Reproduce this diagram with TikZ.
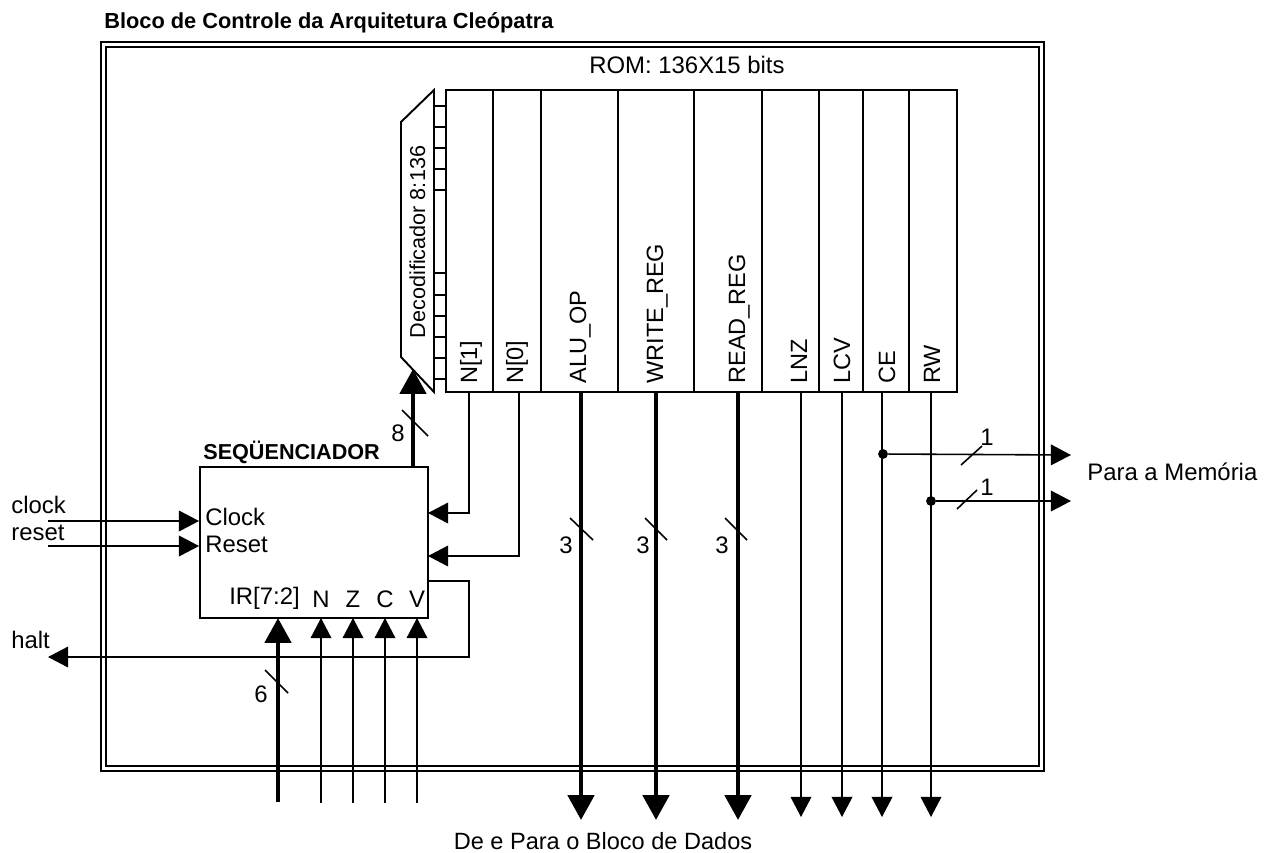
\documentclass[tikz,border=0pt]{standalone}
\usepackage{fontspec}
\setmainfont{Liberation Sans}
\usetikzlibrary{arrows.meta}
\tikzset{
  lbl/.style={inner sep=0pt,font=\fontsize{13.6}{16}\selectfont},
  collbl/.style={inner sep=0pt,font=\fontsize{13.4}{16}\selectfont,rotate=90,anchor=base west},
  thinline/.style={line width=0.9pt},
  thickline/.style={line width=2.8pt},
  thinarrow/.style={thinline,-{Triangle[length=11.5pt,width=11.8pt]}},
  thickarrow/.style={thickline,-{Triangle[length=14.2pt,width=14.8pt]}},
  blockbox/.style={draw,line width=1.1pt,inner sep=0pt},
  dot/.style={circle,fill,inner sep=0pt,minimum size=5.6pt},
  slash/.style={line width=0.9pt}
}
\begin{document}
\begin{tikzpicture}[x=0.02cm,y=-0.02cm,line cap=butt,line join=miter]
  \useasboundingbox (0,0) rectangle (1274,852);
  \node[lbl,anchor=west,font=\fontsize{12.4}{15}\selectfont\bfseries] (title) at (104,23) {Bloco de Controle da Arquitetura Cleópatra};
  \draw[line width=1.1pt] (101,42) rectangle (1044,771);
  \draw[line width=1.1pt] (106,47) rectangle (1039,766);
  \node[lbl] (romtitle) at (687,65) {ROM: 136X15 bits};
  \draw[line width=1.1pt] (446,90) rectangle (957,392);
  \foreach \xcol in {493,541,618,694,762,819,863,909}
    \draw[line width=1.1pt] (\xcol,90) -- (\xcol,392);
  \foreach \xb/\txt/\nm in {477/N[1]/nb,523/N[0]/na,586/ALU\_OP/alu,663/WRITE\_REG/wreg,745/READ\_REG/rreg,807/LNZ/lnz,850/LCV/lcv,895/CE/ce,940/RW/rw}
    \node[collbl] (\nm) at (\xb,384) {\txt};
  \draw[line width=1.1pt] (434,90) -- (401,122) -- (401,357) -- (434,392) -- cycle;
  \foreach \ytick in {106,127,148,169,190,273,295,316,337,358,379}
    \draw[line width=1.1pt] (434,\ytick) -- (446,\ytick);
  \node[lbl,rotate=90,anchor=base,font=\fontsize{12.3}{15}\selectfont] (dec) at (425,242) {Decodificador 8:136};
  \node[blockbox,minimum width=4.56cm,minimum height=3.02cm] (seq) at (314,542.5) {};
  \node[lbl,anchor=west,font=\fontsize{12.3}{15}\selectfont\bfseries] (seqtitle) at (203,452) {SEQÜENCIADOR};
  \node[lbl,anchor=west] (clk) at (205,517) {Clock};
  \node[lbl,anchor=west] (rst) at (205,544) {Reset};
  \node[lbl,anchor=west] (ir) at (229,598) {IR[7:2]};
  \node[lbl] (nf) at (321,599) {N};
  \node[lbl] (zf) at (353,599) {Z};
  \node[lbl] (cf) at (385,599) {C};
  \node[lbl] (vf) at (417,599) {V};
  \node[lbl,anchor=west] (clkin) at (11,505) {clock};
  \node[lbl,anchor=west] (rstin) at (11,533) {reset};
  \node[lbl,anchor=west] (haltout) at (11,640) {halt};
  \coordinate (clkst) at (48,521);
  \coordinate (rstst) at (48,546);
  \coordinate (haltend) at (48,657);
  \draw[thinarrow] (clkst) -- (clkst -| seq.west);
  \draw[thinarrow] (rstst) -- (rstst -| seq.west);
  \draw[thickarrow] (seq.north -| 413,0) -- (413,369);
  \draw[thinarrow] (469,392) -- (469,513) -- (428,513);
  \draw[thinarrow] (519,392) -- (519,556) -- (428,556);
  \draw[thinarrow] (428,581) -- (469,581) -- (469,657) -- (haltend);
  \draw[thickarrow] (278,802) -- (278,618);
  \foreach \xin in {321,353,385,417}
    \draw[thinarrow] (\xin,803) -- (\xin,618);
  \foreach \xout in {581,656,738}
    \draw[thickarrow] (\xout,392) -- (\xout,820);
  \foreach \xout in {801,842,882,931}
    \draw[thinarrow] (\xout,392) -- (\xout,817);
  \node[dot] (cedot) at (883,454) {};
  \node[dot] (rwdot) at (931,501) {};
  \coordinate (ceend) at (1071,455);
  \coordinate (rwend) at (1071,501);
  \draw[thinarrow] (cedot) -- (ceend);
  \draw[thinarrow] (rwdot) -- (rwend);
  \draw[slash] (961,465) -- (982,446);
  \draw[slash] (957,509) -- (977,490);
  \node[lbl] (cebit) at (987,437) {1};
  \node[lbl] (rwbit) at (987,487) {1};
  \node[lbl,anchor=west] (mem) at (1087,472) {Para a Memória};
  \draw[slash] (402,410) -- (428,436);
  \node[lbl] (eightbit) at (398,433) {8};
  \draw[slash] (570,518) -- (593,540);
  \draw[slash] (645,518) -- (667,540);
  \draw[slash] (725,518) -- (747,540);
  \node[lbl] (alubit) at (566,545) {3};
  \node[lbl] (wregbit) at (643,545) {3};
  \node[lbl] (rregbit) at (722,545) {3};
  \draw[slash] (265,670) -- (288,693);
  \node[lbl] (irbit) at (261,694) {6};
  \node[lbl,font=\fontsize{13.4}{16}\selectfont] (dados) at (603,841) {De e Para o Bloco de Dados};
\end{tikzpicture}
\end{document}
